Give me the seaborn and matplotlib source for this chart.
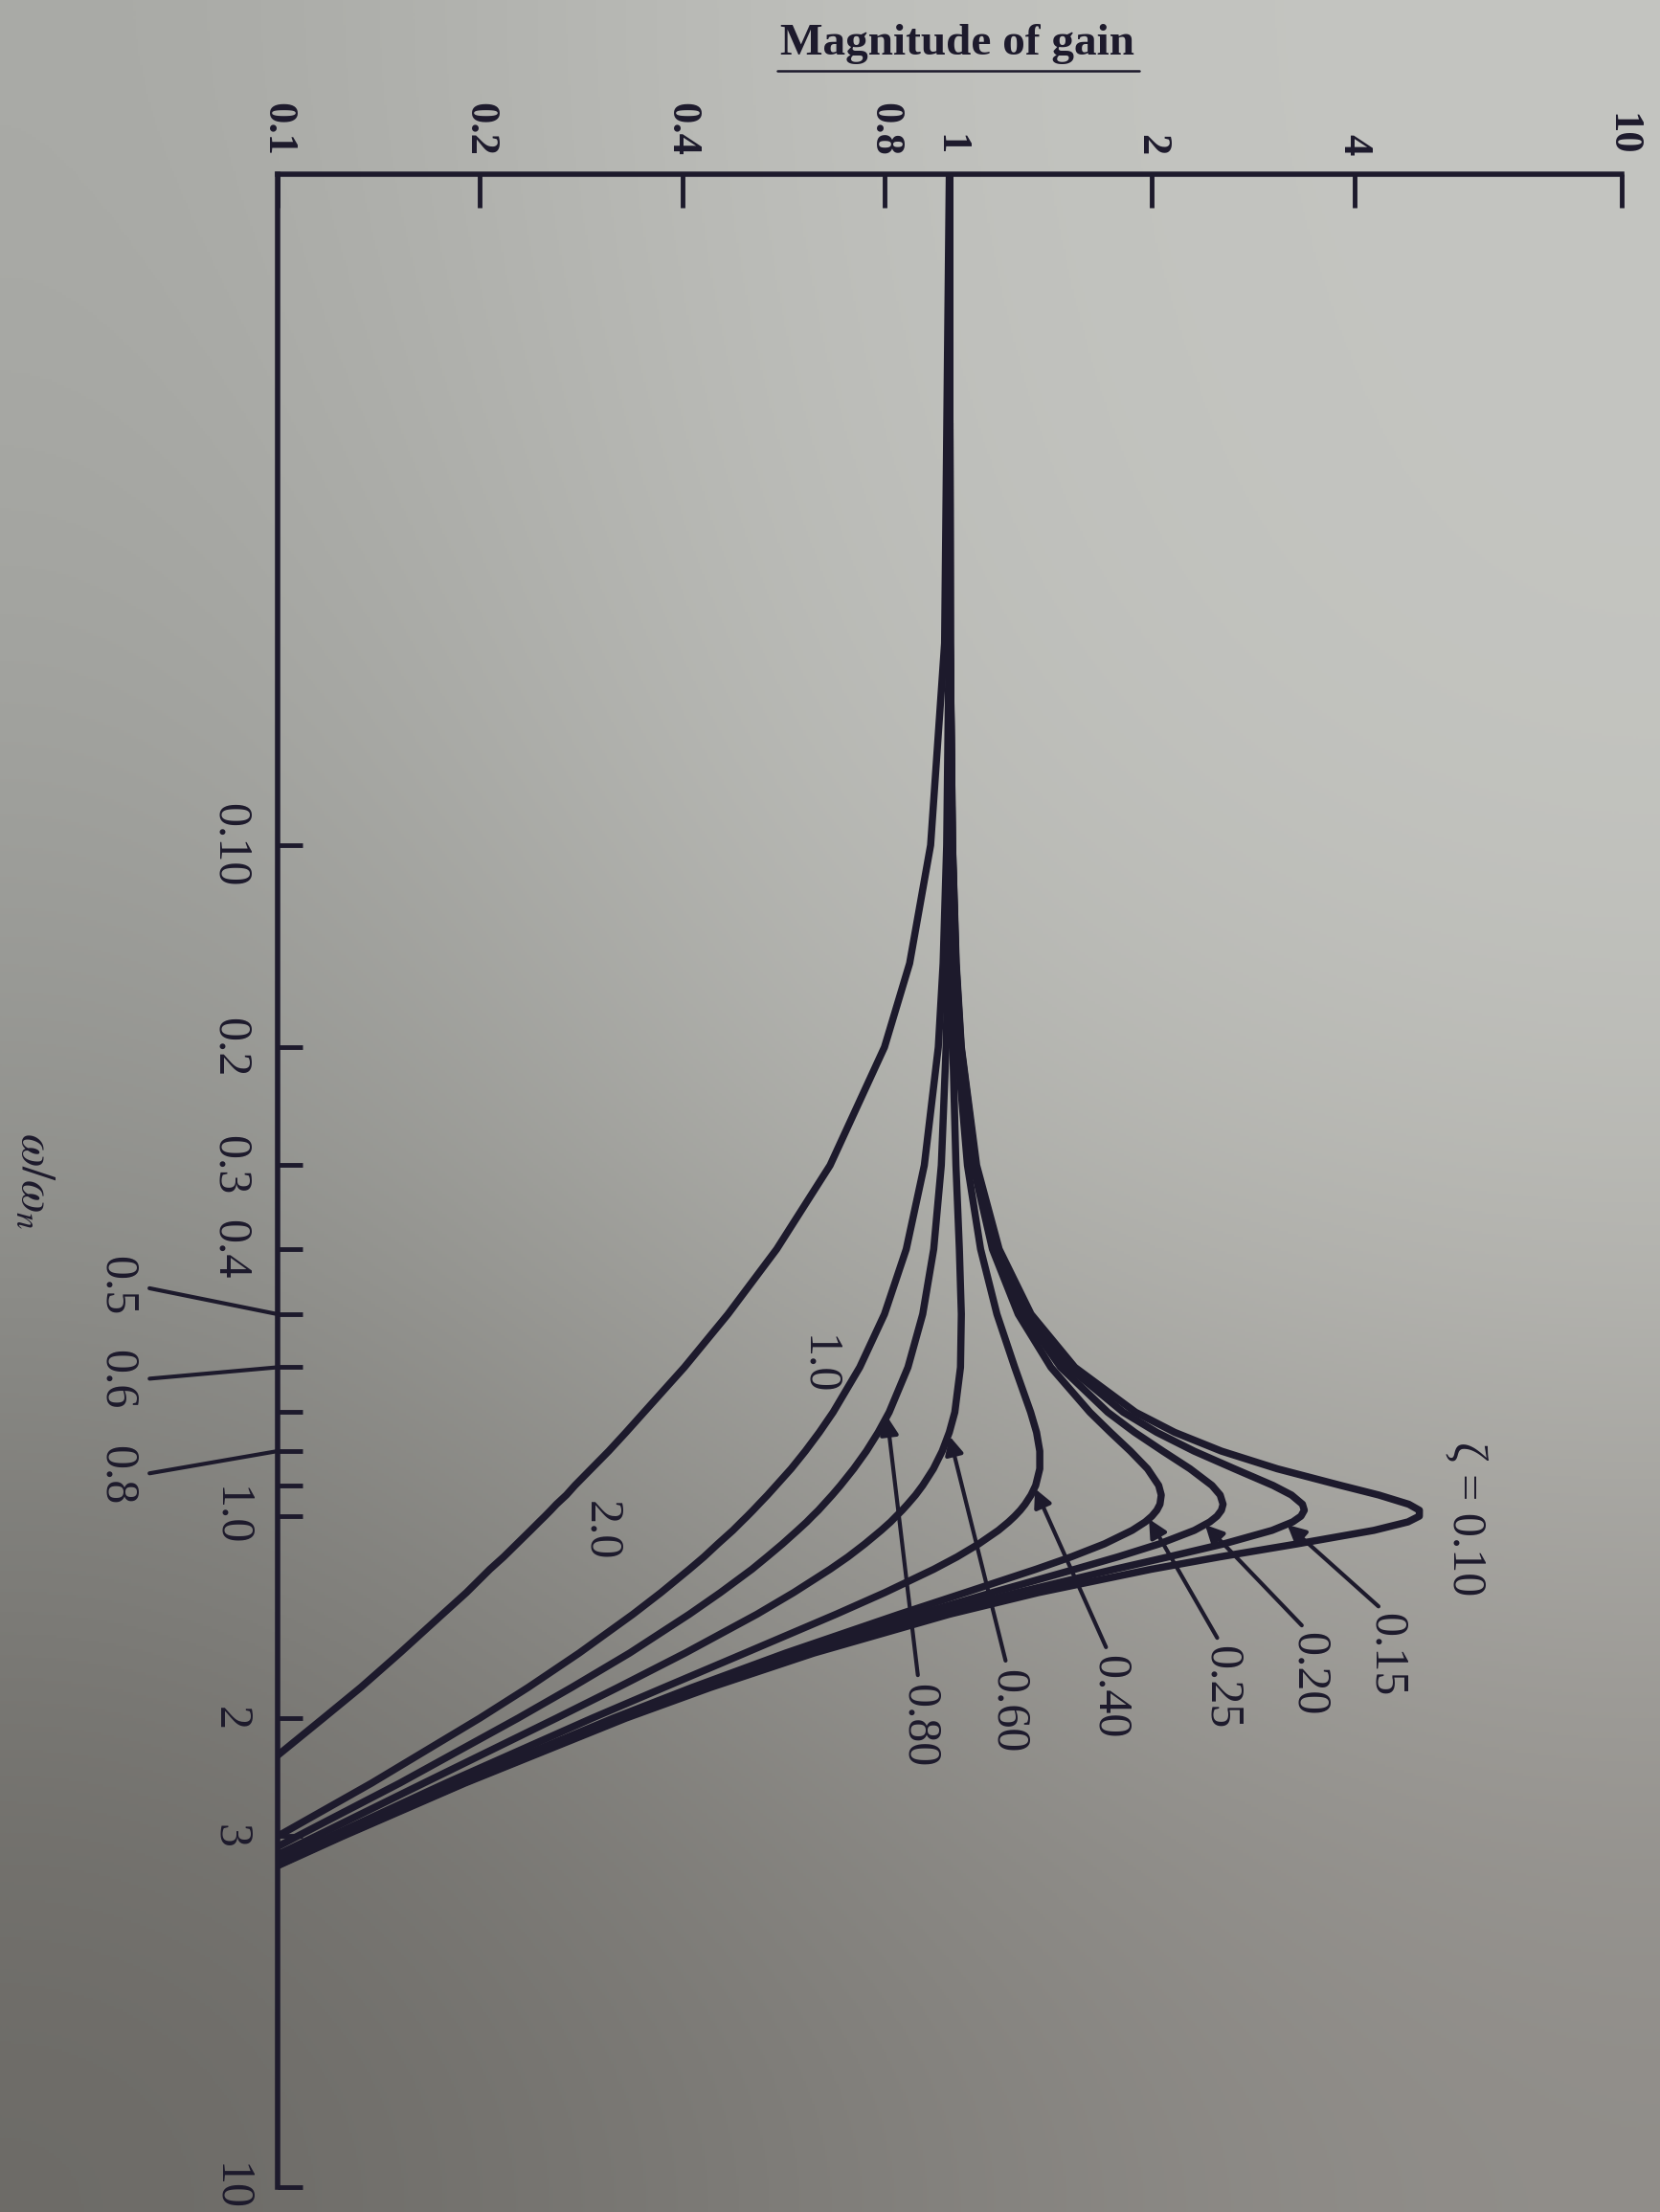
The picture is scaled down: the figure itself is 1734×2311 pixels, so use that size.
# Magnitude of gain vs. w/wn for a second-order system (rotated textbook figure)
import numpy as np
import pandas as pd
import matplotlib
matplotlib.use('Agg')
import matplotlib.pyplot as plt
import seaborn as sns
from matplotlib.colors import to_rgb
from matplotlib.lines import Line2D

# ---------------- data ----------------
ratio = [0.01, 0.05, 0.1, 0.15, 0.2, 0.3, 0.4, 0.5, 0.6, 0.7, 0.75, 0.8, 0.85, 0.9,
         0.93, 0.96, 0.98, 1.0, 1.02, 1.05, 1.1, 1.15, 1.2, 1.3, 1.4, 1.6, 1.8,
         2.0, 2.5, 3.0, 3.5]

gain_z010 = [1.000, 1.002, 1.010, 1.023, 1.041, 1.097, 1.185, 1.322, 1.536, 1.891, 2.162,
             2.538, 3.073, 3.821, 4.350, 4.822, 5.001, 5.000, 4.809, 4.279, 3.288, 2.524,
             1.995, 1.356, 1.000, 0.628, 0.441, 0.330, 0.190, 0.125, 0.089]
gain_z015 = [1.000, 1.002, 1.010, 1.022, 1.040, 1.094, 1.179, 1.307, 1.504, 1.813, 2.033,
             2.311, 2.653, 3.029, 3.226, 3.350, 3.371, 3.333, 3.240, 3.019, 2.557, 2.117,
             1.759, 1.262, 0.954, 0.613, 0.434, 0.327, 0.189, 0.124, 0.089]
gain_z020 = [1.000, 1.002, 1.009, 1.021, 1.038, 1.089, 1.169, 1.288, 1.463, 1.719, 1.885,
             2.076, 2.279, 2.457, 2.527, 2.552, 2.538, 2.500, 2.439, 2.313, 2.051, 1.780,
             1.536, 1.157, 0.900, 0.593, 0.425, 0.322, 0.187, 0.124, 0.088]
gain_z025 = [1.000, 1.002, 1.009, 1.020, 1.036, 1.084, 1.158, 1.265, 1.415, 1.617, 1.735,
             1.858, 1.970, 2.047, 2.065, 2.056, 2.034, 2.000, 1.955, 1.869, 1.699, 1.517,
             1.344, 1.055, 0.842, 0.570, 0.414, 0.316, 0.185, 0.123, 0.088]
gain_z040 = [1.000, 1.002, 1.007, 1.015, 1.027, 1.063, 1.112, 1.176, 1.250, 1.320, 1.347,
             1.362, 1.362, 1.343, 1.322, 1.295, 1.274, 1.250, 1.224, 1.182, 1.105, 1.026,
             0.947, 0.801, 0.678, 0.496, 0.376, 0.294, 0.178, 0.120, 0.086]
gain_z060 = [1.000, 1.001, 1.003, 1.006, 1.011, 1.022, 1.034, 1.041, 1.038, 1.018, 0.999,
             0.975, 0.946, 0.912, 0.890, 0.866, 0.850, 0.833, 0.817, 0.791, 0.748, 0.706,
             0.664, 0.586, 0.517, 0.404, 0.321, 0.260, 0.165, 0.114, 0.083]
gain_z080 = [1.000, 0.999, 0.997, 0.994, 0.988, 0.972, 0.947, 0.912, 0.867, 0.813, 0.783,
             0.752, 0.720, 0.688, 0.669, 0.650, 0.638, 0.625, 0.613, 0.594, 0.564, 0.535,
             0.508, 0.456, 0.410, 0.334, 0.274, 0.228, 0.152, 0.107, 0.080]
gain_z100 = [1.000, 0.998, 0.990, 0.978, 0.962, 0.917, 0.862, 0.800, 0.735, 0.671, 0.640,
             0.610, 0.581, 0.552, 0.536, 0.520, 0.510, 0.500, 0.490, 0.476, 0.452, 0.431,
             0.410, 0.372, 0.338, 0.281, 0.236, 0.200, 0.138, 0.100, 0.076]
gain_z200 = [0.999, 0.983, 0.937, 0.872, 0.800, 0.664, 0.553, 0.468, 0.403, 0.351, 0.330,
             0.311, 0.293, 0.277, 0.269, 0.260, 0.255, 0.250, 0.245, 0.238, 0.227, 0.217,
             0.207, 0.191, 0.176, 0.152, 0.133, 0.117, 0.089, 0.069, 0.056]

zeta_names = ['0.10', '0.15', '0.20', '0.25', '0.40', '0.60', '0.80', '1.0', '2.0']
gain_series = [gain_z010, gain_z015, gain_z020, gain_z025, gain_z040,
               gain_z060, gain_z080, gain_z100, gain_z200]

# axis ticks
gain_ticks = [0.1, 0.2, 0.4, 0.8, 1, 2, 4, 10]
gain_tick_labels = ['0.1', '0.2', '0.4', '0.8', '1', '2', '4', '10']
ratio_ticks = [0.1, 0.2, 0.3, 0.4, 0.5, 0.6, 0.7, 0.8, 0.9, 1.0, 2, 3, 10]
ratio_tick_labels = ['0.10', '0.2', '0.3', '0.4', '', '', '', '', '', '1.0', '2', '3', '10']
# labels set off the axis with a short leader line
side_ticks = [0.5, 0.6, 0.8]
side_labels = ['0.5', '0.6', '0.8']
side_label_ratio = [0.454, 0.626, 0.869]

# curve labels: text, label position (gain, ratio), arrow tip (gain, ratio)
curve_text = ['0.15', '0.20', '0.25', '0.40', '0.60', '0.80']
curve_text_gain = [4.46, 3.42, 2.54, 1.73, 1.22, 0.90]
curve_text_ratio = [1.61, 1.72, 1.80, 1.86, 1.95, 2.05]
curve_tip_gain = [3.18, 2.40, 1.98, 1.34, 1.00, 0.807]
curve_tip_ratio = [1.03, 1.03, 1.01, 0.91, 0.76, 0.71]
plain_text = ['\u03b6 = 0.10', '1.0', '2.0']
plain_text_gain = [5.85, 0.636, 0.303]
plain_text_ratio = [1.01, 0.596, 1.05]

# ---------------- style ----------------
ink = '#1d1a2c'
paper_rows = [['#a9aaa6', '#c1c2be', '#c4c5c1'],
              ['#979894', '#b8b9b4', '#c3c4bf'],
              ['#6b6965', '#7e7c78', '#8f8c88']]

sns.set_style('ticks')
plt.rcParams['font.family'] = ['Liberation Serif', 'DejaVu Serif']
plt.rcParams['mathtext.fontset'] = 'stix'

df = pd.concat([pd.DataFrame({'ratio': ratio, 'gain': g, 'zeta': z})
                for z, g in zip(zeta_names, gain_series)], ignore_index=True)

fig = plt.figure(figsize=(17.34, 23.11), dpi=100)

# photographed paper background
bg = fig.add_axes([0, 0, 1, 1], zorder=-10)
bg.imshow(np.array([[to_rgb(c) for c in row] for row in paper_rows]),
          extent=[0, 1, 0, 1], aspect='auto', interpolation='bicubic')
bg.axis('off')

ax = fig.add_axes([0.1672, 0.01125, 0.8097, 0.91])
ax.set_facecolor('none')
ax.set_xscale('log')
ax.set_yscale('log')

sns.lineplot(data=df, x='gain', y='ratio', units='zeta', estimator=None, sort=False,
             color=ink, linewidth=5.4, legend=False, ax=ax)

ax.set_xlim(0.1, 10)
ax.set_ylim(10, 0.01)
ax.minorticks_off()

for side in ['right', 'bottom']:
    ax.spines[side].set_visible(False)
for side in ['top', 'left']:
    ax.spines[side].set_color(ink)
    ax.spines[side].set_linewidth(4)

ax.xaxis.tick_top()
ax.set_xticks(gain_ticks, gain_tick_labels, rotation=-90, ha='center', va='bottom',
              fontsize=32, fontweight='bold', color=ink)
ax.set_yticks(ratio_ticks, ratio_tick_labels, rotation=-90, ha='right', va='center',
              fontsize=36, color=ink)
ax.tick_params(axis='x', which='major', direction='in', length=25, width=3.5,
               color=ink, pad=14, top=True, bottom=False)
ax.tick_params(axis='y', which='major', direction='in', length=19, width=3.5,
               color=ink, pad=19)
# longer tick at 1.0
ax.set_yticks([1.0], minor=True)
ax.tick_params(axis='y', which='minor', direction='in', length=32, width=3.5, color=ink)

# axis titles
ax.xaxis.set_label_position('top')
ax.set_xlabel('Magnitude of gain', fontsize=34, fontweight='bold', color=ink,
              va='center', ha='center')
ax.xaxis.set_label_coords(0.506, 1.0647)
ax.set_ylabel(r'$\omega/\omega_n$', fontsize=36, color=ink, rotation=-90,
              va='center', ha='center', rotation_mode='default')
ax.yaxis.set_label_coords(-0.181, 0.5)
# the title is underlined in the print
fig.add_artist(Line2D([812 / 1734, 1190 / 1734], [1 - 74 / 2311] * 2, color=ink, lw=1.8))

# off-set frequency labels with leader lines
ytrans = ax.get_yaxis_transform()
for t, lab, ly in zip(side_ticks, side_labels, side_label_ratio):
    ax.annotate(lab, xy=(0, t), xycoords=ytrans, xytext=(-0.12, ly), textcoords=ytrans,
                rotation=-90, ha='center', va='center', fontsize=36, color=ink,
                annotation_clip=False,
                arrowprops=dict(arrowstyle='-', color=ink, lw=3, relpos=(1.0, 0.5),
                                shrinkA=6, shrinkB=0))

# damping-ratio labels
for lab, gx, ry, tx, ty in zip(curve_text, curve_text_gain, curve_text_ratio,
                               curve_tip_gain, curve_tip_ratio):
    ax.annotate(lab, xy=(tx, ty), xytext=(gx, ry), rotation=-90, ha='center', va='center',
                fontsize=36, color=ink,
                arrowprops=dict(arrowstyle='-|>', color=ink, lw=3, mutation_scale=28,
                                relpos=(0.5, 1.0), shrinkA=4, shrinkB=0))
for lab, gx, ry in zip(plain_text, plain_text_gain, plain_text_ratio):
    ax.text(gx, ry, lab, rotation=-90, ha='center', va='center', fontsize=36, color=ink)

fig.savefig('out.png', dpi=100)
